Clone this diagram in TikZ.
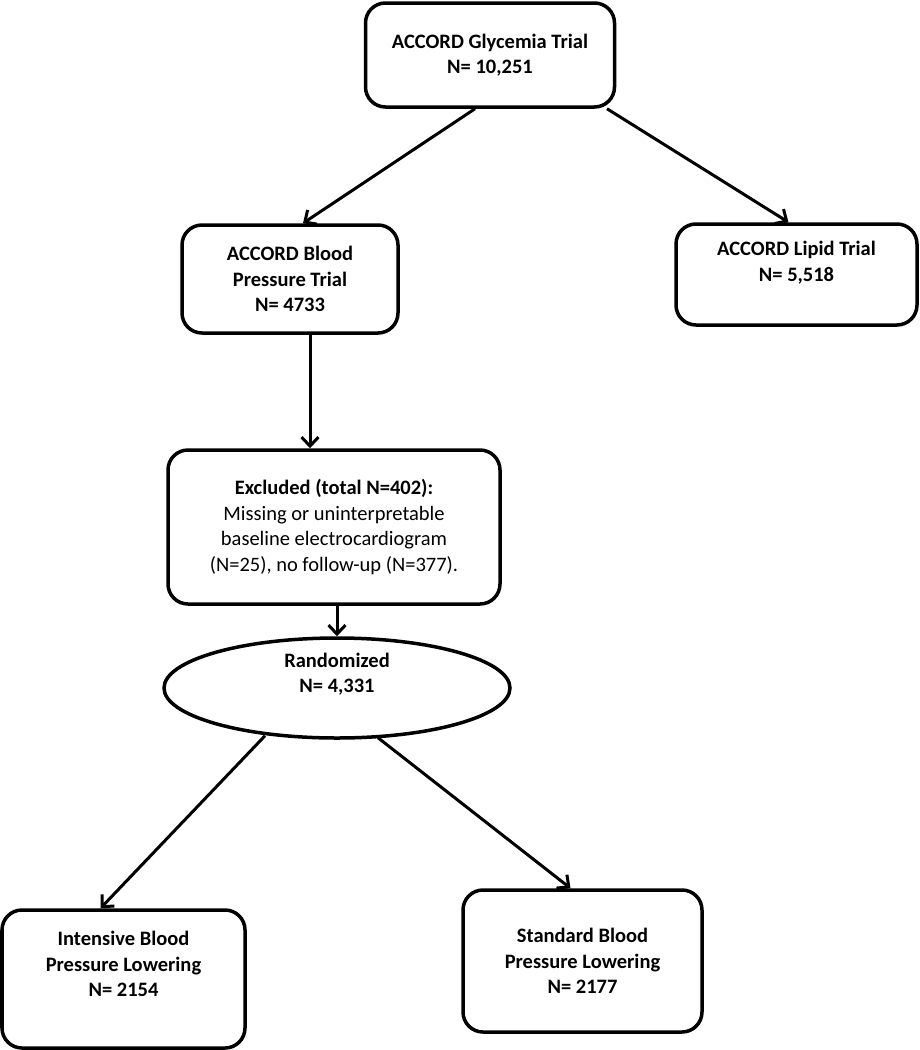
\documentclass[tikz,border=0pt]{standalone}
\usepackage{fontspec}
\setmainfont{Carlito}
\usetikzlibrary{arrows.meta,shapes.geometric}

\begin{document}
\begin{tikzpicture}[x=1pt,y=1pt]
    \tikzset{trialbox/.style = {shape=rectangle,draw,rounded corners=20pt,line width=3.5pt,
        align=center,font=\fontsize{20.5}{25.5}\selectfont\bfseries,inner sep=0pt}}
    \tikzset{randbox/.style = {shape=ellipse,draw,line width=3.5pt,align=center,
        font=\fontsize{20.5}{25.5}\selectfont\bfseries,inner sep=0pt}}
    \tikzset{edge/.style = {-{Straight Barb[length=9pt,width=17pt]},line width=3pt}}
    \useasboundingbox (0,0) rectangle (920,-1050);
    % vertices
    \node[trialbox,minimum width=249pt,minimum height=104pt] (glyc) at (490,-55)
        {ACCORD Glycemia Trial\\N= 10,251};
    \node[trialbox,minimum width=216pt,minimum height=108pt] (bp) at (290,-279)
        {ACCORD Blood\\Pressure Trial\\N= 4733};
    \node[trialbox,minimum width=241pt,minimum height=101pt,text depth=26pt] (lipid) at (796.5,-274.5)
        {ACCORD Lipid Trial\\N= 5,518};
    \path[edge] ([xshift=-15pt]glyc.south) edge ([xshift=13pt]bp.north);
    \path[edge] ([xshift=117pt]glyc.south) edge ([xshift=-8pt]lipid.north);
%%%%%%%%%%%%%%%%%
    \node[trialbox,minimum width=332pt,minimum height=154pt] (excl) at (334,-527)
        {Excluded (total N=402):\\\mdseries Missing or uninterpretable\\\mdseries baseline electrocardiogram\\\mdseries (N=25), no follow-up (N=377).};
    \path[edge] ([xshift=20pt]bp.south) edge ([xshift=-24pt]excl.north);
%%%%%%%%%%%%%%%%%
    \node[randbox,minimum width=346pt,minimum height=100pt,text depth=30pt] (rand) at (337,-688)
        {Randomized\\N= 4,331};
    \path[edge] ([xshift=3pt]excl.south) edge (rand.north);
%%%%%%%%%%%%%%%%%
    \node[trialbox,minimum width=243pt,minimum height=138pt,text depth=30pt] (intens) at (123.5,-979)
        {Intensive Blood\\Pressure Lowering\\N= 2154};
    \node[trialbox,minimum width=239pt,minimum height=142pt] (stand) at (582.5,-961)
        {Standard Blood\\Pressure Lowering\\N= 2177};
    \path[edge] ([xshift=-72pt,yshift=4pt]rand.south) edge ([xshift=-23pt]intens.north);
    \path[edge] ([xshift=41pt,yshift=2pt]rand.south) edge ([xshift=-12pt]stand.north);
\end{tikzpicture}
\end{document}
